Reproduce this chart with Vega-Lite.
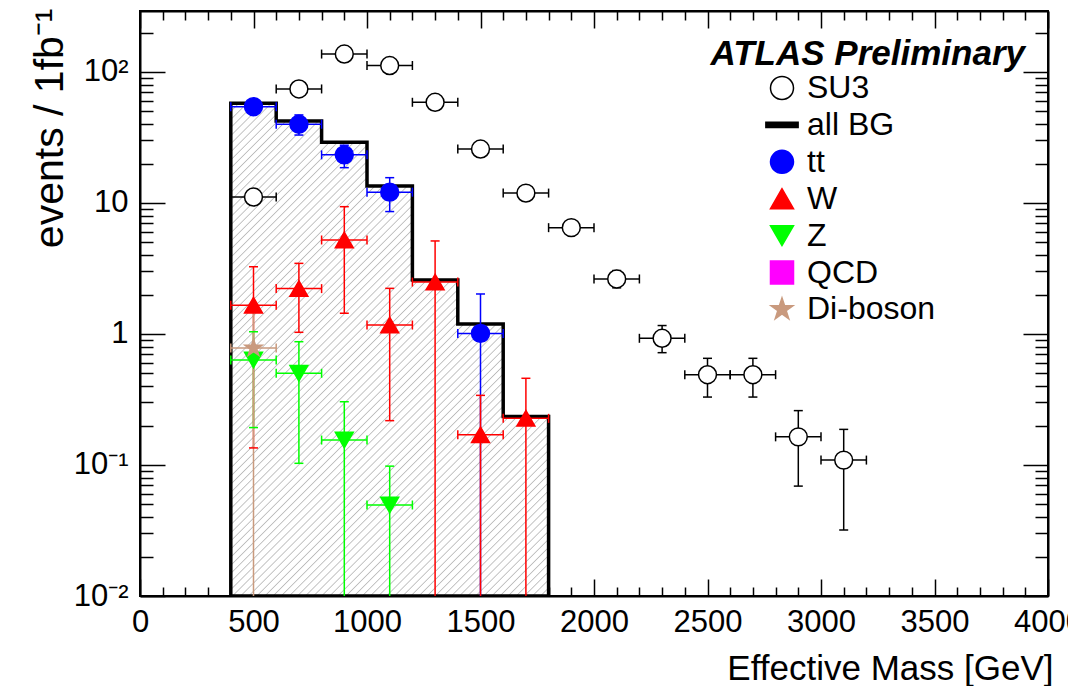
{
  "$schema": "https://vega.github.io/schema/vega-lite/v6.json",
  "width": 908,
  "height": 585,
  "autosize": {"type": "none"},
  "padding": {"left": 140, "top": 11, "right": 20, "bottom": 90},
  "background": "white",
  "title": {"text": "ATLAS Preliminary", "anchor": "end", "frame": "group", "font": "Liberation Sans", "fontSize": 35, "fontStyle": "italic", "fontWeight": "bold", "color": "black", "baseline": "alphabetic", "offset": 0, "dx": -23, "dy": 92},
  "datasets": {
    "hist": [
      {"lo": 400, "hi": 600, "v": 57.7},
      {"lo": 600, "hi": 800, "v": 42.3},
      {"lo": 800, "hi": 1000, "v": 29.1},
      {"lo": 1000, "hi": 1200, "v": 13.5},
      {"lo": 1200, "hi": 1400, "v": 2.58},
      {"lo": 1400, "hi": 1600, "v": 1.19},
      {"lo": 1600, "hi": 1800, "v": 0.234}
    ],
    "pts": [
      {"series": "SU3", "x": 500, "xlo": 400, "xhi": 600, "y": 11.1, "ylo": 10.3, "yhi": 11.9},
      {"series": "SU3", "x": 700, "xlo": 600, "xhi": 800, "y": 74.2, "ylo": 71, "yhi": 77.5},
      {"series": "SU3", "x": 900, "xlo": 800, "xhi": 1000, "y": 137, "ylo": 132, "yhi": 142},
      {"series": "SU3", "x": 1100, "xlo": 1000, "xhi": 1200, "y": 112, "ylo": 108, "yhi": 116},
      {"series": "SU3", "x": 1300, "xlo": 1200, "xhi": 1400, "y": 58.7, "ylo": 56, "yhi": 61.5},
      {"series": "SU3", "x": 1500, "xlo": 1400, "xhi": 1600, "y": 25.8, "ylo": 24, "yhi": 27.6},
      {"series": "SU3", "x": 1700, "xlo": 1600, "xhi": 1800, "y": 11.9, "ylo": 10.9, "yhi": 12.9},
      {"series": "SU3", "x": 1900, "xlo": 1800, "xhi": 2000, "y": 6.48, "ylo": 5.8, "yhi": 7.2},
      {"series": "SU3", "x": 2100, "xlo": 2000, "xhi": 2200, "y": 2.63, "ylo": 2.25, "yhi": 3.05},
      {"series": "SU3", "x": 2300, "xlo": 2200, "xhi": 2400, "y": 0.927, "ylo": 0.72, "yhi": 1.16},
      {"series": "SU3", "x": 2500, "xlo": 2400, "xhi": 2600, "y": 0.489, "ylo": 0.33, "yhi": 0.652},
      {"series": "SU3", "x": 2700, "xlo": 2600, "xhi": 2800, "y": 0.489, "ylo": 0.33, "yhi": 0.652},
      {"series": "SU3", "x": 2900, "xlo": 2800, "xhi": 3000, "y": 0.164, "ylo": 0.069, "yhi": 0.26},
      {"series": "SU3", "x": 3100, "xlo": 3000, "xhi": 3200, "y": 0.109, "ylo": 0.0319, "yhi": 0.187},
      {"series": "tt", "x": 500, "xlo": 400, "xhi": 600, "y": 54.3, "ylo": 51, "yhi": 57.5},
      {"series": "tt", "x": 700, "xlo": 600, "xhi": 800, "y": 39.9, "ylo": 33, "yhi": 47},
      {"series": "tt", "x": 900, "xlo": 800, "xhi": 1000, "y": 23.3, "ylo": 18.6, "yhi": 27.6},
      {"series": "tt", "x": 1100, "xlo": 1000, "xhi": 1200, "y": 12.1, "ylo": 8.6, "yhi": 15.6},
      {"series": "tt", "x": 1500, "xlo": 1400, "xhi": 1600, "y": 1.01, "ylo": 0.001, "yhi": 2.02},
      {"series": "W", "x": 500, "xlo": 400, "xhi": 600, "y": 1.66, "ylo": 0.135, "yhi": 3.26},
      {"series": "W", "x": 700, "xlo": 600, "xhi": 800, "y": 2.22, "ylo": 1.03, "yhi": 3.46},
      {"series": "W", "x": 900, "xlo": 800, "xhi": 1000, "y": 5.22, "ylo": 1.44, "yhi": 9.37},
      {"series": "W", "x": 1100, "xlo": 1000, "xhi": 1200, "y": 1.17, "ylo": 0.218, "yhi": 2.23},
      {"series": "W", "x": 1300, "xlo": 1200, "xhi": 1400, "y": 2.49, "ylo": 0.001, "yhi": 5.13},
      {"series": "W", "x": 1500, "xlo": 1400, "xhi": 1600, "y": 0.17, "ylo": 0.001, "yhi": 0.34},
      {"series": "W", "x": 1700, "xlo": 1600, "xhi": 1800, "y": 0.227, "ylo": 0.001, "yhi": 0.459},
      {"series": "Z", "x": 500, "xlo": 400, "xhi": 600, "y": 0.634, "ylo": 0.193, "yhi": 1.04},
      {"series": "Z", "x": 700, "xlo": 600, "xhi": 800, "y": 0.501, "ylo": 0.103, "yhi": 0.873},
      {"series": "Z", "x": 900, "xlo": 800, "xhi": 1000, "y": 0.155, "ylo": 0.001, "yhi": 0.304},
      {"series": "Z", "x": 1100, "xlo": 1000, "xhi": 1200, "y": 0.0495, "ylo": 0.001, "yhi": 0.098},
      {"series": "Di-boson", "x": 500, "xlo": 400, "xhi": 600, "y": 0.78, "ylo": 0.001, "yhi": 1.55}
    ]
  },
  "resolve": {"axis": {"x": "independent", "y": "independent"}, "scale": {"x": "shared", "y": "shared"}},
  "layer": [
    {
      "data": {"name": "hist"},
      "transform": [{"fold": ["lo", "hi"], "as": ["edgeKind", "edge"]}],
      "mark": {"type": "area", "stroke": "black", "strokeWidth": 3.5, "strokeJoin": "miter", "clip": true,
        "fill": {"gradient": "linear", "x1": 0, "y1": 0, "x2": 0.7493, "y2": 1.1617, "stops": [
{"offset":0,"color":"#bcbcbc"},{"offset":0.0015,"color":"#fff"},{"offset":0.0085,"color":"#fff"},
{"offset":0.01,"color":"#bcbcbc"},{"offset":0.0115,"color":"#fff"},{"offset":0.0185,"color":"#fff"},
{"offset":0.02,"color":"#bcbcbc"},{"offset":0.0215,"color":"#fff"},{"offset":0.0285,"color":"#fff"},
{"offset":0.03,"color":"#bcbcbc"},{"offset":0.0315,"color":"#fff"},{"offset":0.0385,"color":"#fff"},
{"offset":0.04,"color":"#bcbcbc"},{"offset":0.0415,"color":"#fff"},{"offset":0.0485,"color":"#fff"},
{"offset":0.05,"color":"#bcbcbc"},{"offset":0.0515,"color":"#fff"},{"offset":0.0585,"color":"#fff"},
{"offset":0.06,"color":"#bcbcbc"},{"offset":0.0615,"color":"#fff"},{"offset":0.0685,"color":"#fff"},
{"offset":0.07,"color":"#bcbcbc"},{"offset":0.0715,"color":"#fff"},{"offset":0.0785,"color":"#fff"},
{"offset":0.08,"color":"#bcbcbc"},{"offset":0.0815,"color":"#fff"},{"offset":0.0885,"color":"#fff"},
{"offset":0.09,"color":"#bcbcbc"},{"offset":0.0915,"color":"#fff"},{"offset":0.0985,"color":"#fff"},
{"offset":0.10,"color":"#bcbcbc"},{"offset":0.1015,"color":"#fff"},{"offset":0.1085,"color":"#fff"},
{"offset":0.11,"color":"#bcbcbc"},{"offset":0.1115,"color":"#fff"},{"offset":0.1185,"color":"#fff"},
{"offset":0.12,"color":"#bcbcbc"},{"offset":0.1215,"color":"#fff"},{"offset":0.1285,"color":"#fff"},
{"offset":0.13,"color":"#bcbcbc"},{"offset":0.1315,"color":"#fff"},{"offset":0.1385,"color":"#fff"},
{"offset":0.14,"color":"#bcbcbc"},{"offset":0.1415,"color":"#fff"},{"offset":0.1485,"color":"#fff"},
{"offset":0.15,"color":"#bcbcbc"},{"offset":0.1515,"color":"#fff"},{"offset":0.1585,"color":"#fff"},
{"offset":0.16,"color":"#bcbcbc"},{"offset":0.1615,"color":"#fff"},{"offset":0.1685,"color":"#fff"},
{"offset":0.17,"color":"#bcbcbc"},{"offset":0.1715,"color":"#fff"},{"offset":0.1785,"color":"#fff"},
{"offset":0.18,"color":"#bcbcbc"},{"offset":0.1815,"color":"#fff"},{"offset":0.1885,"color":"#fff"},
{"offset":0.19,"color":"#bcbcbc"},{"offset":0.1915,"color":"#fff"},{"offset":0.1985,"color":"#fff"},
{"offset":0.20,"color":"#bcbcbc"},{"offset":0.2015,"color":"#fff"},{"offset":0.2085,"color":"#fff"},
{"offset":0.21,"color":"#bcbcbc"},{"offset":0.2115,"color":"#fff"},{"offset":0.2185,"color":"#fff"},
{"offset":0.22,"color":"#bcbcbc"},{"offset":0.2215,"color":"#fff"},{"offset":0.2285,"color":"#fff"},
{"offset":0.23,"color":"#bcbcbc"},{"offset":0.2315,"color":"#fff"},{"offset":0.2385,"color":"#fff"},
{"offset":0.24,"color":"#bcbcbc"},{"offset":0.2415,"color":"#fff"},{"offset":0.2485,"color":"#fff"},
{"offset":0.25,"color":"#bcbcbc"},{"offset":0.2515,"color":"#fff"},{"offset":0.2585,"color":"#fff"},
{"offset":0.26,"color":"#bcbcbc"},{"offset":0.2615,"color":"#fff"},{"offset":0.2685,"color":"#fff"},
{"offset":0.27,"color":"#bcbcbc"},{"offset":0.2715,"color":"#fff"},{"offset":0.2785,"color":"#fff"},
{"offset":0.28,"color":"#bcbcbc"},{"offset":0.2815,"color":"#fff"},{"offset":0.2885,"color":"#fff"},
{"offset":0.29,"color":"#bcbcbc"},{"offset":0.2915,"color":"#fff"},{"offset":0.2985,"color":"#fff"},
{"offset":0.30,"color":"#bcbcbc"},{"offset":0.3015,"color":"#fff"},{"offset":0.3085,"color":"#fff"},
{"offset":0.31,"color":"#bcbcbc"},{"offset":0.3115,"color":"#fff"},{"offset":0.3185,"color":"#fff"},
{"offset":0.32,"color":"#bcbcbc"},{"offset":0.3215,"color":"#fff"},{"offset":0.3285,"color":"#fff"},
{"offset":0.33,"color":"#bcbcbc"},{"offset":0.3315,"color":"#fff"},{"offset":0.3385,"color":"#fff"},
{"offset":0.34,"color":"#bcbcbc"},{"offset":0.3415,"color":"#fff"},{"offset":0.3485,"color":"#fff"},
{"offset":0.35,"color":"#bcbcbc"},{"offset":0.3515,"color":"#fff"},{"offset":0.3585,"color":"#fff"},
{"offset":0.36,"color":"#bcbcbc"},{"offset":0.3615,"color":"#fff"},{"offset":0.3685,"color":"#fff"},
{"offset":0.37,"color":"#bcbcbc"},{"offset":0.3715,"color":"#fff"},{"offset":0.3785,"color":"#fff"},
{"offset":0.38,"color":"#bcbcbc"},{"offset":0.3815,"color":"#fff"},{"offset":0.3885,"color":"#fff"},
{"offset":0.39,"color":"#bcbcbc"},{"offset":0.3915,"color":"#fff"},{"offset":0.3985,"color":"#fff"},
{"offset":0.40,"color":"#bcbcbc"},{"offset":0.4015,"color":"#fff"},{"offset":0.4085,"color":"#fff"},
{"offset":0.41,"color":"#bcbcbc"},{"offset":0.4115,"color":"#fff"},{"offset":0.4185,"color":"#fff"},
{"offset":0.42,"color":"#bcbcbc"},{"offset":0.4215,"color":"#fff"},{"offset":0.4285,"color":"#fff"},
{"offset":0.43,"color":"#bcbcbc"},{"offset":0.4315,"color":"#fff"},{"offset":0.4385,"color":"#fff"},
{"offset":0.44,"color":"#bcbcbc"},{"offset":0.4415,"color":"#fff"},{"offset":0.4485,"color":"#fff"},
{"offset":0.45,"color":"#bcbcbc"},{"offset":0.4515,"color":"#fff"},{"offset":0.4585,"color":"#fff"},
{"offset":0.46,"color":"#bcbcbc"},{"offset":0.4615,"color":"#fff"},{"offset":0.4685,"color":"#fff"},
{"offset":0.47,"color":"#bcbcbc"},{"offset":0.4715,"color":"#fff"},{"offset":0.4785,"color":"#fff"},
{"offset":0.48,"color":"#bcbcbc"},{"offset":0.4815,"color":"#fff"},{"offset":0.4885,"color":"#fff"},
{"offset":0.49,"color":"#bcbcbc"},{"offset":0.4915,"color":"#fff"},{"offset":0.4985,"color":"#fff"},
{"offset":0.50,"color":"#bcbcbc"},{"offset":0.5015,"color":"#fff"},{"offset":0.5085,"color":"#fff"},
{"offset":0.51,"color":"#bcbcbc"},{"offset":0.5115,"color":"#fff"},{"offset":0.5185,"color":"#fff"},
{"offset":0.52,"color":"#bcbcbc"},{"offset":0.5215,"color":"#fff"},{"offset":0.5285,"color":"#fff"},
{"offset":0.53,"color":"#bcbcbc"},{"offset":0.5315,"color":"#fff"},{"offset":0.5385,"color":"#fff"},
{"offset":0.54,"color":"#bcbcbc"},{"offset":0.5415,"color":"#fff"},{"offset":0.5485,"color":"#fff"},
{"offset":0.55,"color":"#bcbcbc"},{"offset":0.5515,"color":"#fff"},{"offset":0.5585,"color":"#fff"},
{"offset":0.56,"color":"#bcbcbc"},{"offset":0.5615,"color":"#fff"},{"offset":0.5685,"color":"#fff"},
{"offset":0.57,"color":"#bcbcbc"},{"offset":0.5715,"color":"#fff"},{"offset":0.5785,"color":"#fff"},
{"offset":0.58,"color":"#bcbcbc"},{"offset":0.5815,"color":"#fff"},{"offset":0.5885,"color":"#fff"},
{"offset":0.59,"color":"#bcbcbc"},{"offset":0.5915,"color":"#fff"},{"offset":0.5985,"color":"#fff"},
{"offset":0.60,"color":"#bcbcbc"},{"offset":0.6015,"color":"#fff"},{"offset":0.6085,"color":"#fff"},
{"offset":0.61,"color":"#bcbcbc"},{"offset":0.6115,"color":"#fff"},{"offset":0.6185,"color":"#fff"},
{"offset":0.62,"color":"#bcbcbc"},{"offset":0.6215,"color":"#fff"},{"offset":0.6285,"color":"#fff"},
{"offset":0.63,"color":"#bcbcbc"},{"offset":0.6315,"color":"#fff"},{"offset":0.6385,"color":"#fff"},
{"offset":0.64,"color":"#bcbcbc"},{"offset":0.6415,"color":"#fff"},{"offset":0.6485,"color":"#fff"},
{"offset":0.65,"color":"#bcbcbc"},{"offset":0.6515,"color":"#fff"},{"offset":0.6585,"color":"#fff"},
{"offset":0.66,"color":"#bcbcbc"},{"offset":0.6615,"color":"#fff"},{"offset":0.6685,"color":"#fff"},
{"offset":0.67,"color":"#bcbcbc"},{"offset":0.6715,"color":"#fff"},{"offset":0.6785,"color":"#fff"},
{"offset":0.68,"color":"#bcbcbc"},{"offset":0.6815,"color":"#fff"},{"offset":0.6885,"color":"#fff"},
{"offset":0.69,"color":"#bcbcbc"},{"offset":0.6915,"color":"#fff"},{"offset":0.6985,"color":"#fff"},
{"offset":0.70,"color":"#bcbcbc"},{"offset":0.7015,"color":"#fff"},{"offset":0.7085,"color":"#fff"},
{"offset":0.71,"color":"#bcbcbc"},{"offset":0.7115,"color":"#fff"},{"offset":0.7185,"color":"#fff"},
{"offset":0.72,"color":"#bcbcbc"},{"offset":0.7215,"color":"#fff"},{"offset":0.7285,"color":"#fff"},
{"offset":0.73,"color":"#bcbcbc"},{"offset":0.7315,"color":"#fff"},{"offset":0.7385,"color":"#fff"},
{"offset":0.74,"color":"#bcbcbc"},{"offset":0.7415,"color":"#fff"},{"offset":0.7485,"color":"#fff"},
{"offset":0.75,"color":"#bcbcbc"},{"offset":0.7515,"color":"#fff"},{"offset":0.7585,"color":"#fff"},
{"offset":0.76,"color":"#bcbcbc"},{"offset":0.7615,"color":"#fff"},{"offset":0.7685,"color":"#fff"},
{"offset":0.77,"color":"#bcbcbc"},{"offset":0.7715,"color":"#fff"},{"offset":0.7785,"color":"#fff"},
{"offset":0.78,"color":"#bcbcbc"},{"offset":0.7815,"color":"#fff"},{"offset":0.7885,"color":"#fff"},
{"offset":0.79,"color":"#bcbcbc"},{"offset":0.7915,"color":"#fff"},{"offset":0.7985,"color":"#fff"},
{"offset":0.80,"color":"#bcbcbc"},{"offset":0.8015,"color":"#fff"},{"offset":0.8085,"color":"#fff"},
{"offset":0.81,"color":"#bcbcbc"},{"offset":0.8115,"color":"#fff"},{"offset":0.8185,"color":"#fff"},
{"offset":0.82,"color":"#bcbcbc"},{"offset":0.8215,"color":"#fff"},{"offset":0.8285,"color":"#fff"},
{"offset":0.83,"color":"#bcbcbc"},{"offset":0.8315,"color":"#fff"},{"offset":0.8385,"color":"#fff"},
{"offset":0.84,"color":"#bcbcbc"},{"offset":0.8415,"color":"#fff"},{"offset":0.8485,"color":"#fff"},
{"offset":0.85,"color":"#bcbcbc"},{"offset":0.8515,"color":"#fff"},{"offset":0.8585,"color":"#fff"},
{"offset":0.86,"color":"#bcbcbc"},{"offset":0.8615,"color":"#fff"},{"offset":0.8685,"color":"#fff"},
{"offset":0.87,"color":"#bcbcbc"},{"offset":0.8715,"color":"#fff"},{"offset":0.8785,"color":"#fff"},
{"offset":0.88,"color":"#bcbcbc"},{"offset":0.8815,"color":"#fff"},{"offset":0.8885,"color":"#fff"},
{"offset":0.89,"color":"#bcbcbc"},{"offset":0.8915,"color":"#fff"},{"offset":0.8985,"color":"#fff"},
{"offset":0.90,"color":"#bcbcbc"},{"offset":0.9015,"color":"#fff"},{"offset":0.9085,"color":"#fff"},
{"offset":0.91,"color":"#bcbcbc"},{"offset":0.9115,"color":"#fff"},{"offset":0.9185,"color":"#fff"},
{"offset":0.92,"color":"#bcbcbc"},{"offset":0.9215,"color":"#fff"},{"offset":0.9285,"color":"#fff"},
{"offset":0.93,"color":"#bcbcbc"},{"offset":0.9315,"color":"#fff"},{"offset":0.9385,"color":"#fff"},
{"offset":0.94,"color":"#bcbcbc"},{"offset":0.9415,"color":"#fff"},{"offset":0.9485,"color":"#fff"},
{"offset":0.95,"color":"#bcbcbc"},{"offset":0.9515,"color":"#fff"},{"offset":0.9585,"color":"#fff"},
{"offset":0.96,"color":"#bcbcbc"},{"offset":0.9615,"color":"#fff"},{"offset":0.9685,"color":"#fff"},
{"offset":0.97,"color":"#bcbcbc"},{"offset":0.9715,"color":"#fff"},{"offset":0.9785,"color":"#fff"},
{"offset":0.98,"color":"#bcbcbc"},{"offset":0.9815,"color":"#fff"},{"offset":0.9885,"color":"#fff"},
{"offset":0.99,"color":"#bcbcbc"},{"offset":0.9915,"color":"#fff"},{"offset":0.9985,"color":"#fff"},
{"offset":1,"color":"#bcbcbc"}
        ]}},
      "encoding": {
        "x": {"field": "edge", "type": "quantitative", "scale": {"domain": [0, 4000], "nice": false, "zero": false},
          "axis": {"orient": "bottom", "values": [0,100,200,300,400,500,600,700,800,900,1000,1100,1200,1300,1400,1500,1600,1700,1800,1900,2000,2100,2200,2300,2400,2500,2600,2700,2800,2900,3000,3100,3200,3300,3400,3500,3600,3700,3800,3900,4000],
            "tickSize": {"condition": {"test": "datum.value % 500 === 0", "value": -17}, "value": -9},
            "labelExpr": "datum.value % 500 === 0 ? datum.label : ''",
            "format": "d", "labelPadding": 28, "labelOverlap": false, "labelFlush": false, "labelBound": false,
            "title": "Effective Mass [GeV]", "titleFontSize": 35, "titleX": 913, "titleY": 83, "titleAlign": "right", "titleBaseline": "alphabetic", "titleAnchor": null}},
        "y": {"field": "v", "type": "quantitative", "stack": null, "scale": {"type": "log", "domain": [0.01, 292], "nice": false},
          "axis": {"orient": "left", "values": [0.01,0.02,0.03,0.04,0.05,0.06,0.07,0.08,0.09,0.1,0.2,0.3,0.4,0.5,0.6,0.7,0.8,0.9,1,2,3,4,5,6,7,8,9,10,20,30,40,50,60,70,80,90,100,200],
            "tickSize": {"condition": {"test": "datum.value === 0.01 || datum.value === 0.1 || datum.value === 1 || datum.value === 10 || datum.value === 100", "value": -25}, "value": -13},
            "labelExpr": "datum.value === 0.01 ? '10⁻²' : datum.value === 0.1 ? '10⁻¹' : datum.value === 1 ? '1' : datum.value === 10 ? '10' : datum.value === 100 ? '10²' : ''",
            "labelPadding": 37, "labelOverlap": false, "labelFlush": false, "labelBound": false,
            "title": "events / 1fb⁻¹", "titleFontSize": 41, "titleX": -78, "titleY": -3, "titleAngle": 270, "titleAlign": "right", "titleBaseline": "alphabetic", "titleAnchor": null}},
        "order": [{"field": "lo", "type": "quantitative"}, {"field": "edge", "type": "quantitative"}]
      }
    },
    {
      "data": {"name": "pts"},
      "mark": {"type": "rule", "strokeWidth": 1.5, "clip": true},
      "encoding": {
        "x": {"field": "x", "type": "quantitative", "axis": null},
        "y": {"field": "ylo", "type": "quantitative", "axis": null},
        "y2": {"field": "yhi"},
        "color": {"field": "series", "type": "nominal", "legend": null,
          "scale": {"domain": ["SU3", "tt", "W", "Z", "Di-boson"], "range": ["black", "#0000ff", "#ff0000", "#00ff00", "#c99a7e"]}}
      }
    },
    {
      "data": {"name": "pts"},
      "mark": {"type": "rule", "strokeWidth": 1.5, "clip": true},
      "encoding": {
        "x": {"field": "xlo", "type": "quantitative", "axis": null},
        "x2": {"field": "xhi"},
        "y": {"field": "y", "type": "quantitative", "axis": null},
        "color": {"field": "series", "type": "nominal", "legend": null}
      }
    },
    {
      "data": {"name": "pts"},
      "transform": [{"fold": ["ylo", "yhi"], "as": ["endKind", "yend"]}],
      "mark": {"type": "tick", "orient": "horizontal", "size": 9, "thickness": 1.5, "clip": true, "opacity": 1},
      "encoding": {
        "x": {"field": "x", "type": "quantitative", "axis": null},
        "y": {"field": "yend", "type": "quantitative", "axis": null},
        "color": {"field": "series", "type": "nominal", "legend": null}
      }
    },
    {
      "data": {"name": "pts"},
      "transform": [{"fold": ["xlo", "xhi"], "as": ["endKind", "xend"]}],
      "mark": {"type": "tick", "orient": "vertical", "size": 9, "thickness": 1.5, "clip": true, "opacity": 1},
      "encoding": {
        "x": {"field": "xend", "type": "quantitative", "axis": null},
        "y": {"field": "y", "type": "quantitative", "axis": null},
        "color": {"field": "series", "type": "nominal", "legend": null}
      }
    },
    {
      "data": {"name": "pts"},
      "mark": {"type": "point", "filled": true, "opacity": 1, "size": 320, "strokeWidth": 1.5, "clip": true},
      "encoding": {
        "x": {"field": "x", "type": "quantitative",
          "axis": {"orient": "top", "values": [0,100,200,300,400,500,600,700,800,900,1000,1100,1200,1300,1400,1500,1600,1700,1800,1900,2000,2100,2200,2300,2400,2500,2600,2700,2800,2900,3000,3100,3200,3300,3400,3500,3600,3700,3800,3900,4000],
            "tickSize": {"condition": {"test": "datum.value % 500 === 0", "value": -17}, "value": -9},
            "labels": false, "title": null}},
        "y": {"field": "y", "type": "quantitative",
          "axis": {"orient": "right", "values": [0.01,0.02,0.03,0.04,0.05,0.06,0.07,0.08,0.09,0.1,0.2,0.3,0.4,0.5,0.6,0.7,0.8,0.9,1,2,3,4,5,6,7,8,9,10,20,30,40,50,60,70,80,90,100,200],
            "tickSize": {"condition": {"test": "datum.value === 0.01 || datum.value === 0.1 || datum.value === 1 || datum.value === 10 || datum.value === 100", "value": -25}, "value": -13},
            "labels": false, "title": null}},
        "fill": {"field": "series", "type": "nominal",
          "legend": {"title": null, "orient": "none", "legendX": 626, "legendY": 61, "direction": "vertical", "padding": 0, "symbolSize": 530, "symbolStrokeWidth": 1.5, "labelFontSize": 32, "labelOffset": 9, "rowPadding": 4.9},
          "scale": {"domain": ["SU3", "all BG", "tt", "W", "Z", "QCD", "Di-boson"], "range": ["white", "black", "#0000ff", "#ff0000", "#00ff00", "#ff00ff", "#c99a7e"]}},
        "stroke": {"field": "series", "type": "nominal",
          "legend": {"title": null, "orient": "none", "legendX": 626, "legendY": 61, "direction": "vertical", "padding": 0, "symbolSize": 530, "symbolStrokeWidth": 1.5, "labelFontSize": 32, "labelOffset": 9, "rowPadding": 4.9},
          "scale": {"domain": ["SU3", "all BG", "tt", "W", "Z", "QCD", "Di-boson"], "range": ["black", "black", "#0000ff", "#ff0000", "#00ff00", "#ff00ff", "#c99a7e"]}},
        "shape": {"field": "series", "type": "nominal",
          "legend": {"title": null, "orient": "none", "legendX": 626, "legendY": 61, "direction": "vertical", "padding": 0, "symbolSize": 530, "symbolStrokeWidth": 1.5, "labelFontSize": 32, "labelOffset": 9, "rowPadding": 4.9},
          "scale": {"domain": ["SU3", "all BG", "tt", "W", "Z", "QCD", "Di-boson"], "range": ["circle", "M-1.4,-0.22L1.4,-0.22L1.4,0.22L-1.4,0.22Z", "circle", "triangle-up", "triangle-down", "square", "M0,-1L0.225,-0.309L0.951,-0.309L0.363,0.118L0.588,0.809L0,0.382L-0.588,0.809L-0.363,0.118L-0.951,-0.309L-0.225,-0.309Z"]}}
      }
    }
  ],
  "config": {
    "font": "Liberation Sans",
    "view": {"stroke": "black", "strokeWidth": 2},
    "axis": {"grid": false, "labelFont": "Liberation Sans", "labelFontSize": 31, "labelColor": "black", "tickColor": "black", "tickWidth": 1.5, "domainColor": "black", "domainWidth": 2, "titleFont": "Liberation Sans", "titleFontSize": 33, "titleFontWeight": "normal", "titleColor": "black"},
    "legend": {"labelFont": "Liberation Sans", "labelColor": "black", "symbolOpacity": 1}
  }
}
